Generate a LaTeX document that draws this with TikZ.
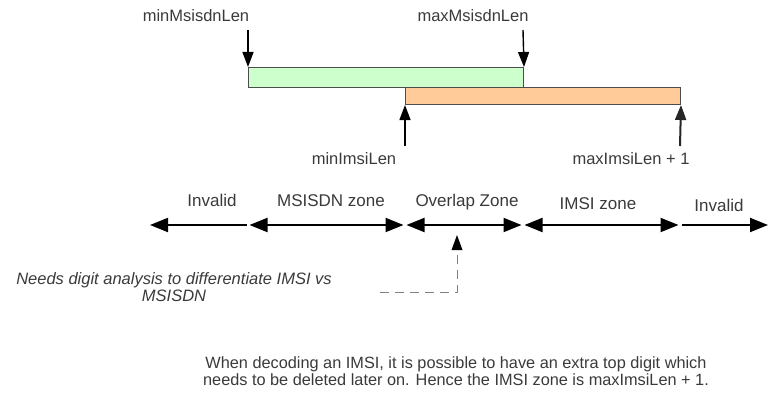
\documentclass[tikz,border=0pt]{standalone}
\usepackage{fontspec}
\setmainfont{Liberation Sans}
\usetikzlibrary{arrows.meta}
\definecolor{txt}{HTML}{3A3A3A}
\definecolor{grn}{HTML}{CCFFCC}
\definecolor{org}{HTML}{FFCC99}
\begin{document}
\begin{tikzpicture}[x=1pt,y=-1pt,
  lbl/.style={text=txt,font=\fontsize{16.5}{19}\selectfont,inner sep=0pt,anchor=base},
  zlbl/.style={lbl,font=\fontsize{17}{19}\selectfont},
  bar/.style={draw=black!70,line width=1pt,minimum height=#1,inner sep=0pt,anchor=north west},
  vpt/.style={line width=1.4pt,-{Triangle[length=15pt,width=11pt]}},
  zone/.style={line width=2pt,{Triangle[length=18pt,width=14pt]}-{Triangle[length=18pt,width=14pt]},shorten <=1.5pt,shorten >=1.5pt},
  zonel/.style={line width=2pt,{Triangle[length=18pt,width=14pt]}-,shorten >=1.5pt},
  zoner/.style={line width=2pt,-{Triangle[length=18pt,width=14pt]},shorten <=1.5pt},
]
\useasboundingbox (0,0) rectangle (768,396);
% bars
\node[bar=17pt,fill=org,minimum width=275pt] (imsi) at (405,87) {};
\node[bar=20pt,fill=grn,minimum width=275pt] (msisdn) at (248,67) {};
% top labels
\node[lbl] (minM) at (196,22) {minMsisdnLen};
\node[lbl] (maxM) at (473,22) {maxMsisdnLen};
\node[lbl] (minI) at (354,164) {minImsiLen};
\node[lbl] (maxI) at (631,164) {maxImsiLen + 1};
\coordinate (aminM) at (248,30);
\coordinate (amaxM) at (523,30);
\coordinate (aminI) at (405,146);
\coordinate (amaxI) at (680,146);
\draw[vpt] (aminM) -- (msisdn.north west);
\draw[vpt] (amaxM) -- (msisdn.north east);
\draw[vpt] (aminI) -- (imsi.south west);
\draw[vpt,black!85,line width=2pt] (amaxI) -- (imsi.south east);
% zones
\coordinate (z0) at (150,225);
\coordinate (z1) at (248,225);
\coordinate (z2) at (405,225);
\coordinate (z3) at (523,225);
\coordinate (z4) at (680,225);
\coordinate (z5) at (768,225);
\draw[zonel] (z0) -- (z1);
\draw[zone] (z1) -- (z2);
\draw[zone] (z2) -- (z3);
\draw[zone] (z3) -- (z4);
\draw[zoner] (z4) -- (z5);
\node[zlbl] (l1) at (212,206) {Invalid};
\node[zlbl] (l2) at (331,206) {MSISDN zone};
\node[zlbl] (l3) at (467,206) {Overlap Zone};
\node[zlbl] (l4) at (598,209) {IMSI zone};
\node[zlbl] (l5) at (719,211) {Invalid};
% dashed pointer
\coordinate (d0) at (380,292);
\coordinate (d1) at (457,292);
\coordinate (d2) at (457,235);
\draw[gray,line width=1pt,dash pattern=on 9pt off 6pt] (d0) -- (d1) -- ([yshift=-12pt]d2);
\fill[black] (d2) -- ++(-5.5,15) -- ++(11,0) -- cycle;
\node[lbl,font=\fontsize{16.5}{17}\selectfont\itshape,align=center,anchor=north] (note) at (174,272)
  {Needs digit analysis to differentiate IMSI vs\\MSISDN};
\node[lbl,font=\fontsize{16.3}{17}\selectfont,align=center,anchor=north] (foot) at (456,356)
  {When decoding an IMSI, it is possible to have an extra top digit which\\needs to be deleted later on. Hence the IMSI zone is maxImsiLen + 1.};
\end{tikzpicture}
\end{document}
